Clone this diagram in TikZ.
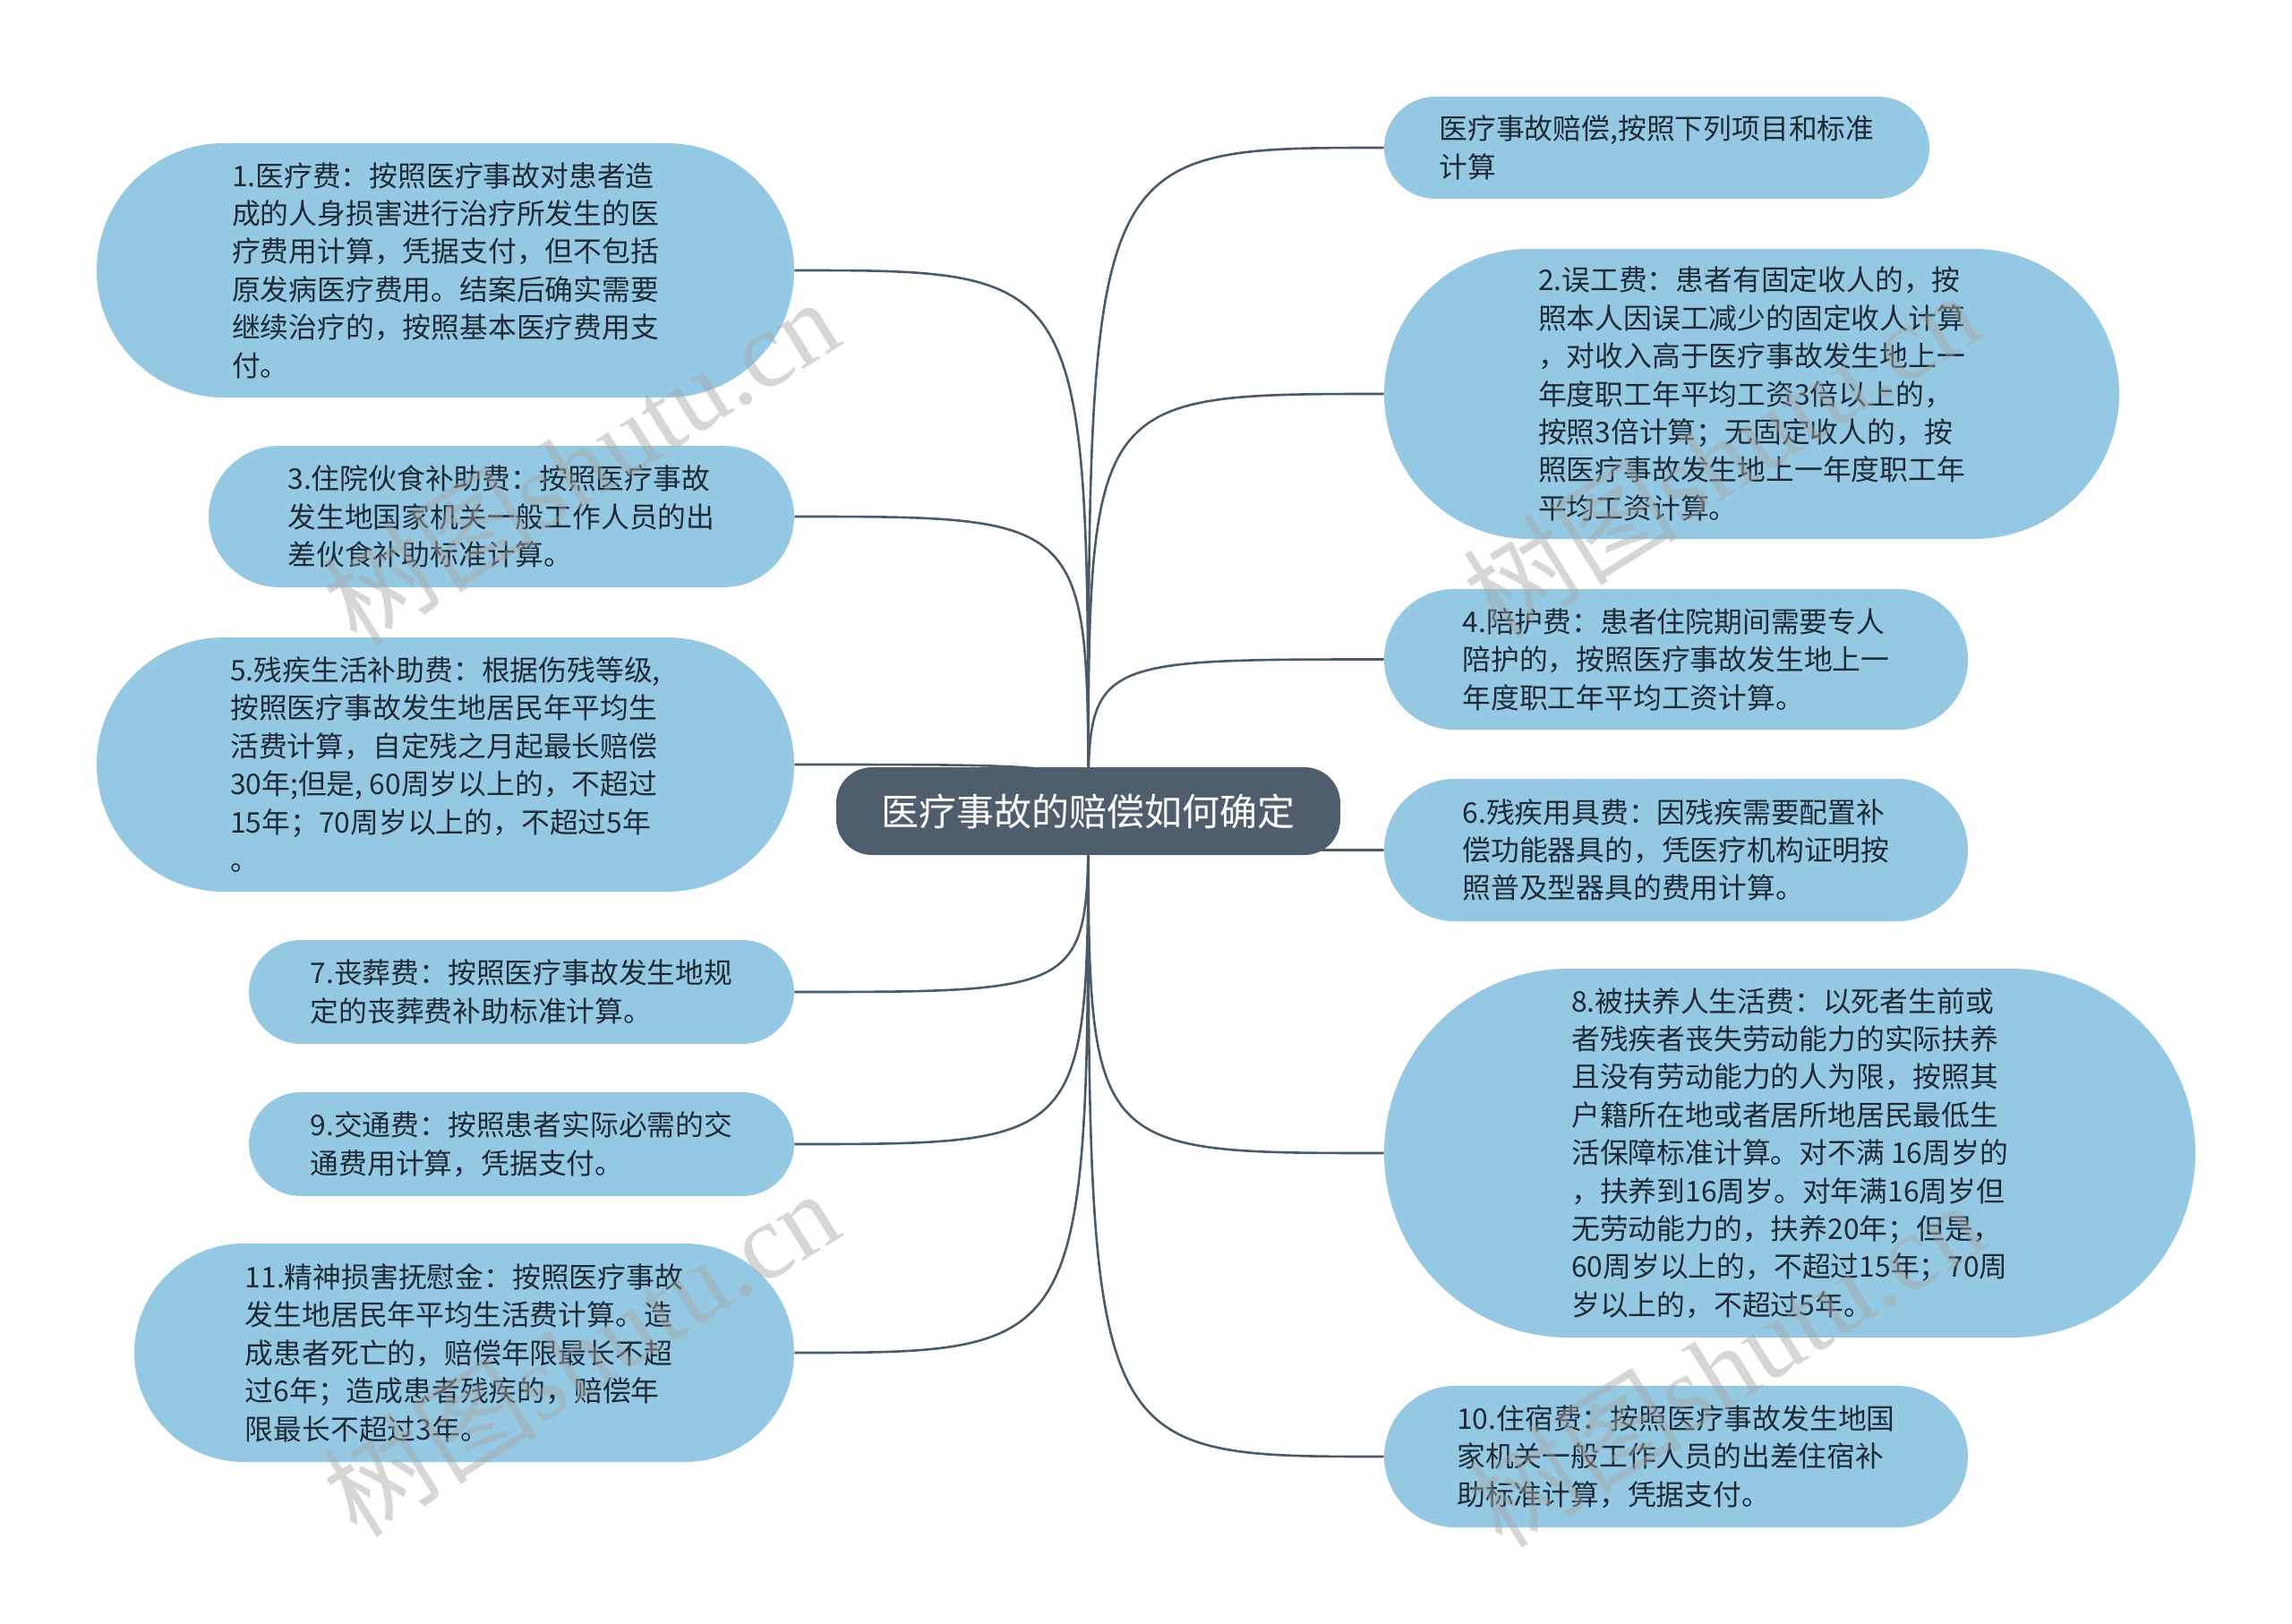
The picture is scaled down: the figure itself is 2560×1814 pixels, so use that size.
\documentclass[tikz,border=0pt]{standalone}
\usepackage{fontspec}
\setmainfont{Noto Sans CJK SC}
\newfontfamily\wmlatin{Liberation Serif}
\usetikzlibrary{backgrounds}
\definecolor{leafblue}{HTML}{95C9E3}
\definecolor{rootgray}{HTML}{4E5E6D}
\definecolor{linecol}{HTML}{4A5A69}
\definecolor{txtcol}{HTML}{1E2A36}
\tikzset{
 leaf/.style={fill=leafblue, draw=none, text=txtcol, align=left, inner sep=0pt, font=\fontsize{15.9}{21.2}\selectfont},
 rootnode/.style={fill=rootgray, text=white, rounded corners=20pt, minimum width=281.5pt, minimum height=49pt, inner sep=0pt, font=\fontsize{21}{25}\selectfont},
 conn/.style={draw=linecol, line width=1.3pt},
 wm/.style={text=gray!70, opacity=0.45, rotate=32, inner sep=0pt, font=\fontsize{60}{60}\selectfont}
}
\begin{document}
\begin{tikzpicture}[x=0.5pt,y=-0.5pt]
\useasboundingbox (0,0) rectangle (2560,1814);

\node[rootnode] (c) at (1215.5,906) {医疗事故的赔偿如何确定};

% left nodes
\node[leaf, minimum width=389.5pt, minimum height=142pt, rounded corners=71pt] (n1) at (497.5,302)
 {1.医疗费：按照医疗事故对患者造\\成的人身损害进行治疗所发生的医\\疗费用计算，凭据支付，但不包括\\原发病医疗费用。结案后确实需要\\继续治疗的，按照基本医疗费用支\\付。};
\node[leaf, minimum width=327pt, minimum height=79pt, rounded corners=39.5pt] (n3) at (560,577)
 {3.住院伙食补助费：按照医疗事故\\发生地国家机关一般工作人员的出\\差伙食补助标准计算。};
\node[leaf, minimum width=389.5pt, minimum height=142pt, rounded corners=71pt] (n5) at (497.5,854)
 {5.残疾生活补助费：根据伤残等级,\\按照医疗事故发生地居民年平均生\\活费计算，自定残之月起最长赔偿\\30年;但是, 60周岁以上的，不超过\\15年；70周岁以上的，不超过5年\\。};
\node[leaf, minimum width=304.5pt, minimum height=58pt, rounded corners=29pt] (n7) at (582.5,1108)
 {7.丧葬费：按照医疗事故发生地规\\定的丧葬费补助标准计算。};
\node[leaf, minimum width=304.5pt, minimum height=58pt, rounded corners=29pt] (n9) at (582.5,1278)
 {9.交通费：按照患者实际必需的交\\通费用计算，凭据支付。};
\node[leaf, minimum width=368.5pt, minimum height=122pt, rounded corners=61pt] (n11) at (518.5,1511)
 {11.精神损害抚慰金：按照医疗事故\\发生地居民年平均生活费计算。造\\成患者死亡的，赔偿年限最长不超\\过6年；造成患者残疾的，赔偿年\\限最长不超过3年。};

% right nodes
\node[leaf, minimum width=304.5pt, minimum height=57pt, rounded corners=28.5pt] (r0) at (1850.5,165)
 {医疗事故赔偿,按照下列项目和标准\\计算};
\node[leaf, minimum width=410.5pt, minimum height=162pt, rounded corners=81pt] (n2) at (1956.5,440)
 {2.误工费：患者有固定收人的，按\\照本人因误工减少的固定收人计算\\，对收入高于医疗事故发生地上一\\年度职工年平均工资3倍以上的，\\按照3倍计算；无固定收人的，按\\照医疗事故发生地上一年度职工年\\平均工资计算。};
\node[leaf, minimum width=326pt, minimum height=78.5pt, rounded corners=39pt] (n4) at (1872,736.5)
 {4.陪护费：患者住院期间需要专人\\陪护的，按照医疗事故发生地上一\\年度职工年平均工资计算。};
\node[leaf, minimum width=326pt, minimum height=79.5pt, rounded corners=39.5pt] (n6) at (1872,949.5)
 {6.残疾用具费：因残疾需要配置补\\偿功能器具的，凭医疗机构证明按\\照普及型器具的费用计算。};
\node[leaf, minimum width=453pt, minimum height=206pt, rounded corners=103pt] (n8) at (1999,1288)
 {8.被扶养人生活费：以死者生前或\\者残疾者丧失劳动能力的实际扶养\\且没有劳动能力的人为限，按照其\\户籍所在地或者居所地居民最低生\\活保障标准计算。对不满 16周岁的\\，扶养到16周岁。对年满16周岁但\\无劳动能力的，扶养20年；但是，\\60周岁以上的，不超过15年；70周\\岁以上的，不超过5年。};
\node[leaf, minimum width=326pt, minimum height=79pt, rounded corners=39.5pt] (n10) at (1872,1627)
 {10.住宿费：按照医疗事故发生地国\\家机关一般工作人员的出差住宿补\\助标准计算，凭据支付。};

\begin{pgfonlayer}{background}
\fill[white] (0,0) rectangle (2560,1814);
\foreach \t in {n1,n3,n5,n7,n9,n11}{
  \draw[conn] (c.center) .. controls (c.center |- \t.east) .. (\t.east);
}
\foreach \t in {r0,n2,n4,n6,n8,n10}{
  \draw[conn] (c.center) .. controls (c.center |- \t.west) .. (\t.west);
}
\end{pgfonlayer}

% watermarks
\node[wm] (w1) at (648,514) {树图{\wmlatin shutu.cn}};
\node[wm] (w2) at (1922,506) {树图{\wmlatin shutu.cn}};
\node[wm] (w3) at (648,1510) {树图{\wmlatin shutu.cn}};
\node[wm] (w4) at (1927,1522) {树图{\wmlatin shutu.cn}};
\end{tikzpicture}
\end{document}
